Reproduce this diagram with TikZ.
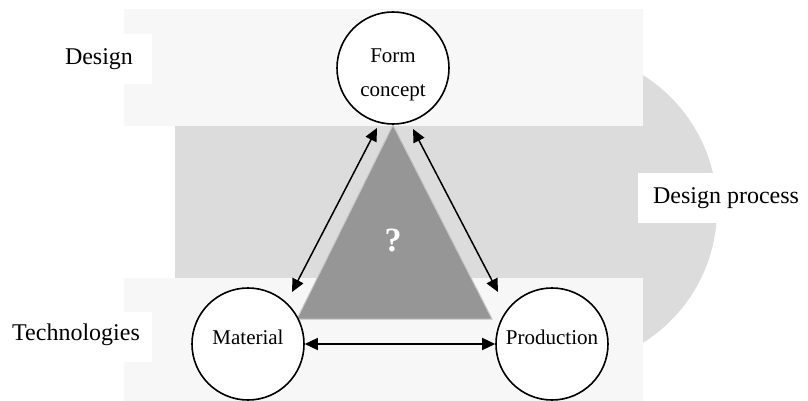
\documentclass[tikz,border=0pt]{standalone}
\usepackage{fontspec}
\setmainfont{Liberation Serif}
\usetikzlibrary{arrows.meta}
\definecolor{bandlight}{HTML}{F7F7F7}
\definecolor{bandmid}{HTML}{DCDCDC}
\definecolor{trigray}{HTML}{969696}
\begin{document}
\begin{tikzpicture}[x=1pt,y=-1pt,
  lab/.style={font=\fontsize{24}{28}\selectfont, inner sep=0pt},
  bubble/.style={circle, draw=black, line width=1.6pt, fill=white, minimum size=112pt, inner sep=0pt, font=\fontsize{21}{34}\selectfont, align=center},
  link/.style={line width=1.5pt, {Triangle[length=13pt,width=12pt]}-{Triangle[length=13pt,width=12pt]}}]
\useasboundingbox (0,0) rectangle (808,401);
% design process disc
\fill[bandmid] (559,209) circle (158);
% bands
\fill[bandlight] (124,9) rectangle (643,126);
\fill[bandmid] (175,126) rectangle (643,278);
\fill[bandlight] (124,278) rectangle (643,401);
% white label notches
\fill[white] (0,34) rectangle (152,84);
\fill[white] (0,312) rectangle (152,362);
\fill[white] (638,173) rectangle (808,223);
% labels
\node[lab] (ldesign) at (99,59) {Design};
\node[lab] (ltech) at (76,335) {Technologies};
\node[lab] (lproc) at (726,198) {Design process};
% triangle
\fill[trigray, draw=gray!45, line width=1pt, line join=miter] (393,125) -- (297,319) -- (492,319) -- cycle;
\node[font=\fontsize{34}{34}\selectfont\bfseries, text=white] (q) at (393,240) {?};
% circles
\node[bubble] (fc) at (393,68) {\raisebox{-12pt}[0pt][0pt]{\parbox{90pt}{\centering Form\\concept}}};
\node[bubble] (mat) at (248,344) {\raisebox{0pt}[0pt][0pt]{Material}};
\node[bubble] (prod) at (552,344) {\raisebox{0pt}[0pt][0pt]{Production}};
% arrow ends
\coordinate (a1) at (377,128);
\coordinate (a2) at (292,292);
\coordinate (a3) at (413,129);
\coordinate (a4) at (498,292);
\draw[link] (a1) -- (a2);
\draw[link] (a3) -- (a4);
\draw[link] (mat.east) -- (prod.west);
\end{tikzpicture}
\end{document}
